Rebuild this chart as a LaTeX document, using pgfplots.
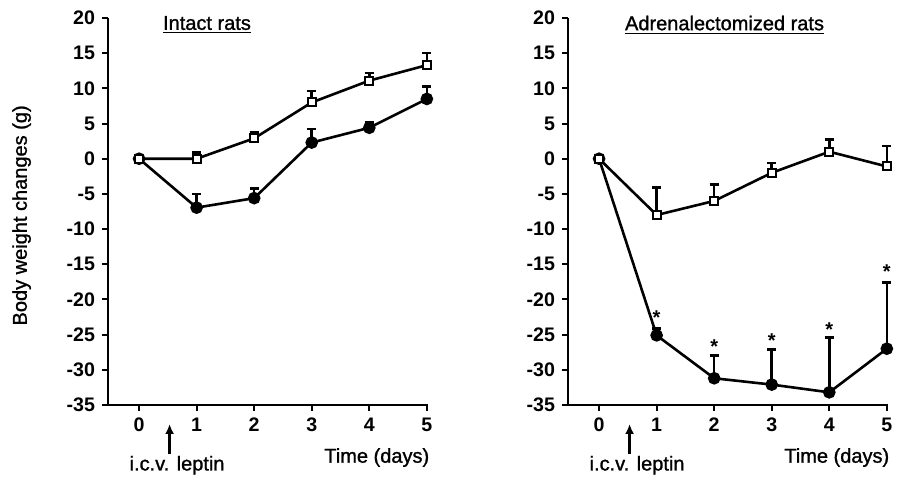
\documentclass[border=0pt]{standalone}
\usepackage{pgfplots}
\pgfplotsset{compat=1.18}
\usepackage{fontspec}
\setmainfont{Liberation Sans}
\newfontfamily\semib[FakeBold=1.2]{Liberation Sans}
\usetikzlibrary{arrows.meta}
\tikzset{lab/.style={font=\fontsize{10}{12}\selectfont\semib}}
\begin{document}
\begin{tikzpicture}
\useasboundingbox (-54pt,-38.5pt) rectangle (398.5pt,202.5pt);
\pgfplotsset{
  myax/.style={
    scale only axis, width=160pt, height=193.5pt,
    xmin=-0.54, xmax=5.02, ymin=-35, ymax=20,
    axis x line=bottom, axis y line=left,
    axis line style={-, line width=1.1pt},
    xtick={0,1,2,3,4,5},
    ytick={-35,-30,-25,-20,-15,-10,-5,0,5,10,15,20},
    yticklabels={-35,-30,-25,-20,-15,-10,-5,0,5,10,15,20},
    xticklabels={0,1,2,3,4,5},
    tick align=outside, major tick length=3pt,
    tick style={line width=1pt, black},
    ticklabel style={font=\fontsize{9.8}{12}\selectfont\bfseries},
    clip=false,
  },
  sq/.style={black, line width=1.3pt, mark=square*, mark size=2pt,
    mark options={fill=white, draw=black, line width=1pt},
    error bars/.cd, y dir=plus, y explicit,
    error bar style={line width=1.3pt}, error mark options={line width=1.3pt, mark size=2.3pt, rotate=90}},
  ci/.style={black, line width=1.3pt, mark=*, mark size=2.5pt,
    mark options={fill=black, draw=black},
    error bars/.cd, y dir=plus, y explicit,
    error bar style={line width=1.3pt}, error mark options={line width=1.3pt, mark size=2.3pt, rotate=90}},
}
% ---------------- left panel
\begin{axis}[myax, at={(0pt,0pt)}, anchor=south west,
  ylabel={Body weight changes (g)},
  ylabel style={at={(axis description cs:-0.27,0.49)}, anchor=center, font=\fontsize{10}{12}\selectfont\semib},
]
\addplot[ci] coordinates {
 (0,0) +- (0,0)
 (1,-6.95) +- (0,1.95)
 (2,-5.6) +- (0,1.4)
 (3,2.3) +- (0,1.9)
 (4,4.4) +- (0,0.8)
 (5,8.5) +- (0,1.8)
};
\addplot[sq] coordinates {
 (0,0) +- (0,0)
 (1,0) +- (0,0.9)
 (2,2.9) +- (0,0.9)
 (3,8) +- (0,1.6)
 (4,11.1) +- (0,1.1)
 (5,13.3) +- (0,1.7)
};
\node[lab] at (axis cs:1.18,19.0) {\underline{Intact rats}};
\node[lab, anchor=base] at (axis cs:4.13,-43.2) {Time (days)};
\node[lab, anchor=base] at (axis cs:0.66,-44.3) {i.c.v. leptin};
\draw[line width=1.1pt, -{Latex[length=5pt,width=4.5pt]}] (axis cs:0.53,-42.0) -- (axis cs:0.53,-37.7);
\end{axis}
% ---------------- right panel
\begin{axis}[myax, at={(230pt,0pt)}, anchor=south west]
\addplot[ci] coordinates {
 (0,0) +- (0,0)
 (1,-25.1) +- (0,1.0)
 (2,-31.2) +- (0,3.2)
 (3,-32.1) +- (0,5.0)
 (4,-33.2) +- (0,7.8)
 (5,-27) +- (0,9.4)
};
\addplot[sq] coordinates {
 (0,0) +- (0,0)
 (1,-8) +- (0,3.9)
 (2,-6) +- (0,2.3)
 (3,-2) +- (0,1.4)
 (4,1) +- (0,1.7)
 (5,-1.1) +- (0,2.9)
};
\addplot[draw=none, mark=none, nodes near coords={*},
  every node near coord/.style={anchor=center, font=\fontsize{10}{12}\selectfont\bfseries}]
  coordinates {(1,-22.6) (2,-26.7) (3,-25.8) (4,-24.3) (5,-16)};
\node[lab] at (axis cs:2.18,19.0) {\underline{Adrenalectomized rats}};
\node[lab, anchor=base] at (axis cs:4.13,-43.2) {Time (days)};
\node[lab, anchor=base] at (axis cs:0.66,-44.3) {i.c.v. leptin};
\draw[line width=1.1pt, -{Latex[length=5pt,width=4.5pt]}] (axis cs:0.53,-42.0) -- (axis cs:0.53,-37.7);
\end{axis}
\end{tikzpicture}
\end{document}
